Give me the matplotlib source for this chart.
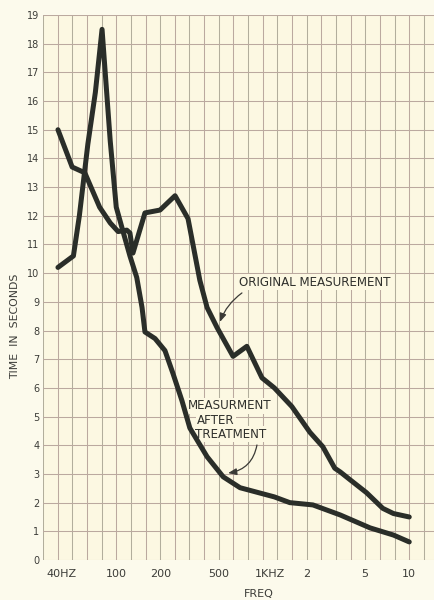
import numpy as np
import matplotlib
matplotlib.use("Agg")
import matplotlib.pyplot as plt
from matplotlib.transforms import ScaledTranslation

# Reverberation time (seconds) against frequency (Hz)
orig_freq = [40, 50, 61, 77, 91, 103, 118, 124, 130, 157, 199, 252, 309,
             372, 417, 488, 627, 779, 988, 1200, 1580, 2100, 2570, 3100,
             3380, 3940, 5100, 6600, 7800, 10000]
orig_time = [15.0, 13.7, 13.5, 12.3, 11.75, 11.45, 11.5, 11.4, 10.7, 12.1,
             12.2, 12.7, 11.9, 9.75, 8.8, 8.1, 7.1, 7.45, 6.35, 6.0, 5.35,
             4.45, 3.95, 3.2, 3.07, 2.8, 2.35, 1.8, 1.62, 1.5]

treat_freq = [40, 51, 56, 64, 72, 80, 91, 100, 112, 124, 138, 150, 157,
              184, 215, 244, 281, 318, 417, 537, 700, 1200, 1530, 2200,
              3380, 5400, 7800, 10000]
treat_time = [10.2, 10.6, 12.0, 14.5, 16.3, 18.5, 14.6, 12.3, 11.4, 10.6,
              9.85, 8.8, 7.95, 7.72, 7.3, 6.5, 5.55, 4.6, 3.6, 2.9, 2.52,
              2.2, 2.0, 1.92, 1.57, 1.12, 0.87, 0.63]

x_tick_freq = [40, 100, 200, 500, 1000, 2000, 5000, 10000]
x_tick_text = ["40HZ", "100", "200", "500", "1KHZ", "2", "5", "10"]
y_ticks = list(range(0, 20))

paper = "#fcfaec"
cell = "#fcf8e2"
rule_a = "#bba99f"
rule_b = "#b2ae9c"
ink = "#2a2e29"
label_ink = "#3c3c38"

fig = plt.figure(figsize=(4.35, 6.0), dpi=100, facecolor=paper)
ax = fig.add_axes([43 / 435, 40 / 600, 392 / 435, 545 / 600])
ax.set_facecolor(cell)
ax.set_xscale("log")
log_left, log_right = 1.5, 1.5 + 0.1 * 392 / 14.65
ax.set_xlim(10 ** log_left, 10 ** log_right)
ax.set_ylim(0, 19)

# graph-paper rulings: ten columns per decade, one row per second
for k in range(0, 28):
    ax.axvline(10 ** (1.5 + 0.1 * k), color=rule_a if k % 2 else rule_b,
               lw=0.75, zorder=1)
for v in y_ticks:
    ax.axhline(v, color=rule_a, lw=0.75, zorder=1)

for s in ax.spines.values():
    s.set_visible(False)

ax.plot(orig_freq, orig_time, color=ink, lw=3.6, solid_joinstyle="round",
        solid_capstyle="round", zorder=3)
ax.plot(treat_freq, treat_time, color=ink, lw=3.6, solid_joinstyle="round",
        solid_capstyle="round", zorder=3)

ax.set_xticks(x_tick_freq)
ax.set_xticklabels(x_tick_text)
ax.xaxis.set_minor_locator(matplotlib.ticker.NullLocator())
ax.set_yticks(y_ticks)
ax.set_yticklabels([str(v) for v in y_ticks])
ax.tick_params(axis="x", length=0, pad=6.5, labelsize=8, labelcolor=label_ink)
ax.tick_params(axis="y", length=0, pad=2.5, labelsize=7, labelcolor=label_ink)

# nudge labels that sit right of their ruling
shifts = {"40HZ": 4, "1KHZ": 7}
for lab in ax.get_xticklabels():
    dx = shifts.get(lab.get_text(), 0)
    if dx:
        lab.set_transform(lab.get_transform() +
                          ScaledTranslation(dx / 100, 0, fig.dpi_scale_trans))

box = dict(facecolor=cell, edgecolor="none", pad=1.0)
ax.text(2275, 9.69, "ORIGINAL MEASUREMENT", fontsize=8.6, color="#2f302c",
        ha="center", va="center", bbox=box, zorder=2)
ax.text(309, 5.37, "MEASURMENT", fontsize=8.6, color="#2f302c",
        ha="left", va="center", bbox=box, zorder=2)
ax.text(356, 4.88, "AFTER", fontsize=8.6, color="#2f302c",
        ha="left", va="center", bbox=box, zorder=2)
ax.text(345, 4.39, "TREATMENT", fontsize=8.6, color="#2f302c",
        ha="left", va="center", bbox=box, zorder=2)

ax.annotate("", xy=(510, 8.3), xytext=(721, 9.31),
            arrowprops=dict(arrowstyle="-|>,head_length=0.5,head_width=0.2",
                            connectionstyle="arc3,rad=0.15", color="#3a3a36",
                            lw=0.9, shrinkA=0, shrinkB=0), zorder=5)
ax.annotate("", xy=(580, 3.03), xytext=(913, 4.01),
            arrowprops=dict(arrowstyle="-|>,head_length=0.5,head_width=0.2",
                            connectionstyle="arc3,rad=-0.35", color="#3a3a36",
                            lw=0.9, shrinkA=0, shrinkB=0), zorder=5)

fig.text(15 / 435, 1 - 326 / 600, "TIME  IN  SECONDS", rotation=90,
         fontsize=7.8, color=label_ink, ha="center", va="center")
fig.text(259 / 435, 1 - 594 / 600, "FREQ", fontsize=8, color=label_ink,
         ha="center", va="center")

fig.savefig("out.png", dpi=100, facecolor=paper)
